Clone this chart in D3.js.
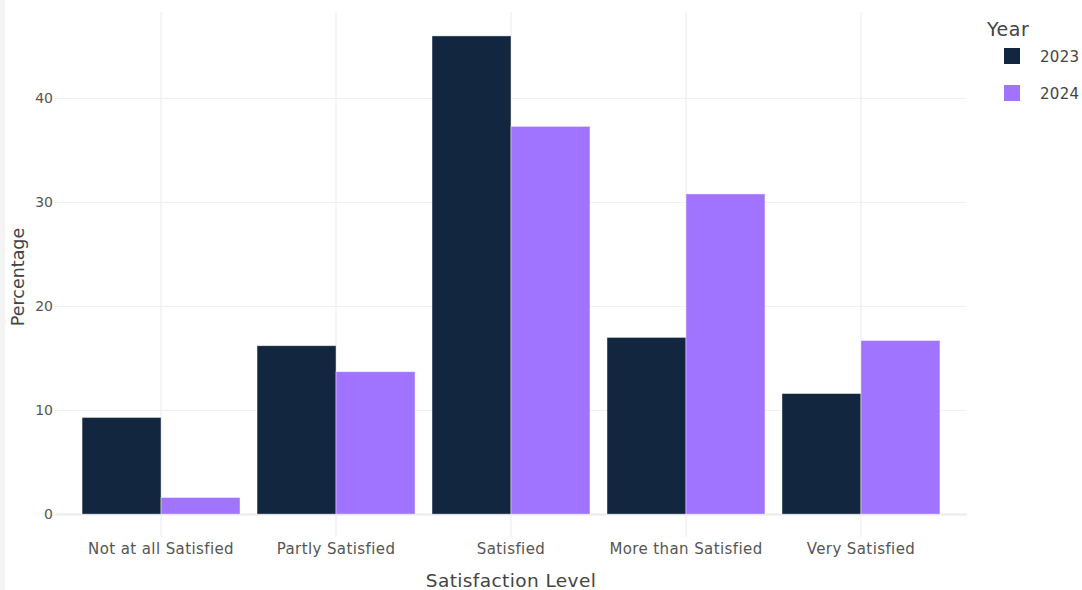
<!DOCTYPE html>
<html>
<head>
<meta charset="utf-8">
<script src="https://cdn.jsdelivr.net/npm/d3@7"></script>
<style>
  html, body { margin: 0; padding: 0; background: #fff; }
  svg { display: block; font-family: "DejaVu Sans", Verdana, sans-serif; }
</style>
</head>
<body>
<svg id="chart" width="1082" height="590"></svg>
<script>
const categories = ["Not at all Satisfied", "Partly Satisfied", "Satisfied", "More than Satisfied", "Very Satisfied"];
const years = ["2023", "2024"];
const values2023 = [9.3, 16.2, 46.0, 17.0, 11.6];
const values2024 = [1.6, 13.7, 37.3, 30.8, 16.7];
const yTicks = [0, 10, 20, 30, 40];
const colors = ["#13263f", "#a074fe"];

const series = [values2023, values2024];
const svg = d3.select("#chart");
const W = 1082, H = 590;
const m = { left: 55, right: 967, top: 12, bottom: 537 };

// left light strip
svg.append("rect").attr("x", 0).attr("y", 0).attr("width", 5).attr("height", H).attr("fill", "#f4f4f4");

const x0 = d3.scaleBand().domain(categories).range([m.left, m.right]).paddingInner(0).paddingOuter(0.106);
const x1 = d3.scaleBand().domain(years).range([x0.bandwidth() * 0.0486, x0.bandwidth() * 0.9514]).paddingInner(0);
const y = d3.scaleLinear().domain([-2.2, 48.3]).range([m.bottom, m.top]);

// vertical gridlines at category centers
svg.append("g").selectAll("line").data(categories).join("line")
  .attr("x1", d => x0(d) + x0.bandwidth() / 2).attr("x2", d => x0(d) + x0.bandwidth() / 2)
  .attr("y1", m.top).attr("y2", m.bottom)
  .attr("stroke", "#ebebeb").attr("stroke-width", 1);

// horizontal gridlines
svg.append("g").selectAll("line").data(yTicks).join("line")
  .attr("x1", m.left).attr("x2", m.right)
  .attr("y1", d => Math.round(y(d)) + 0.5).attr("y2", d => Math.round(y(d)) + 0.5)
  .attr("stroke", d => d === 0 ? "#ebebeb" : "#f0f0f0").attr("stroke-width", d => d === 0 ? 2 : 1);

// y tick labels
const yAxis = d3.axisLeft(y).tickValues(yTicks).tickSize(0).tickPadding(0);
const gy = svg.append("g").attr("transform", `translate(${m.left - 2},0)`).call(yAxis);
gy.select(".domain").remove();
gy.selectAll("text").attr("font-size", 14).attr("fill", "#555").attr("font-family", "DejaVu Sans, sans-serif");

// x tick labels
const xAxis = d3.axisBottom(x0).tickSize(0).tickPadding(0);
const gx = svg.append("g").attr("transform", `translate(0,${m.bottom + 1})`).call(xAxis);
gx.select(".domain").remove();
gx.selectAll("text").attr("font-size", 15).attr("letter-spacing", "0.4px").attr("fill", "#555")
  .attr("dy", "0.71em").attr("y", 5).attr("font-family", "DejaVu Sans, sans-serif");

// bars
const groups = svg.append("g").selectAll("g").data(categories).join("g")
  .attr("transform", d => `translate(${x0(d)},0)`);
groups.selectAll("rect").data((d, i) => years.map((yr, j) => ({ yr, v: series[j][i], j })))
  .join("rect")
  .attr("x", d => x1(d.yr))
  .attr("width", x1.bandwidth())
  .attr("y", d => y(d.v))
  .attr("height", d => y(0) - y(d.v))
  .attr("fill", d => colors[d.j])
  .attr("stroke", "#ffffff").attr("stroke-opacity", 0.55).attr("stroke-width", 0.8);

// axis titles
svg.append("text").attr("x", 511).attr("y", 587).attr("text-anchor", "middle")
  .attr("font-size", 18.5).attr("letter-spacing", "0.4px").attr("fill", "#444").text("Satisfaction Level");
svg.append("text").attr("transform", "translate(24,277) rotate(-90)").attr("text-anchor", "middle")
  .attr("font-size", 17.5).attr("fill", "#444").text("Percentage");

// legend
svg.append("text").attr("x", 987).attr("y", 36).attr("font-size", 19).attr("letter-spacing", "0.5px").attr("fill", "#444").text("Year");
const lg = svg.append("g").selectAll("g").data(years).join("g")
  .attr("transform", (d, i) => `translate(1004,${48 + i * 37})`);
lg.append("rect").attr("width", 16).attr("height", 16).attr("fill", (d, i) => colors[i]);
lg.append("text").attr("x", 36).attr("y", 13.5).attr("font-size", 15).attr("letter-spacing", "0.3px").attr("fill", "#444").text(d => d);
</script>
</body>
</html>
